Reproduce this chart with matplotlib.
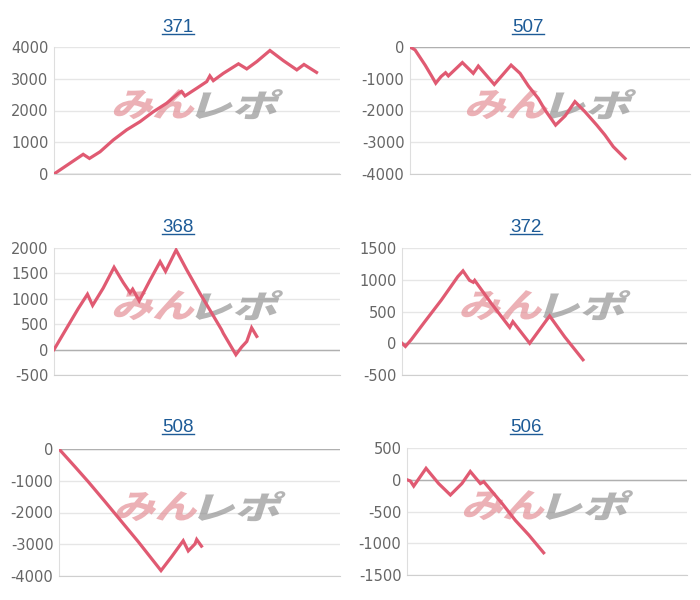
import matplotlib.pyplot as plt
from matplotlib.font_manager import FontProperties
from matplotlib.lines import Line2D
from matplotlib.patches import PathPatch
from matplotlib.textpath import TextPath
from matplotlib.transforms import Affine2D, ScaledTranslation

plt.rcParams["axes.unicode_minus"] = False

# x: position along the (unlabelled) x axis, 0-100; y: coin difference
x_371 = [0, 10.2, 12.4, 16.1, 20.7, 25.4, 30.1, 34.7, 39.4, 43.5, 44.6, 45.8, 49.9,
         53.4, 54.5, 55.7, 59.2, 64.5, 67.4, 70.9, 75.5, 80.2, 84.9, 87.4, 91.8]
y_371 = [0, 620, 490, 700, 1070, 1390, 1650, 1960, 2230, 2540, 2600, 2460, 2700,
         2910, 3090, 2940, 3170, 3470, 3310, 3540, 3890, 3570, 3280, 3450, 3200]

x_507 = [0, 1.8, 5.4, 7.7, 9.2, 11.1, 12.7, 13.7, 18.7, 22.6, 24.4, 30.1, 36.1,
         39.3, 42.3, 45.8, 48.2, 52.0, 55.4, 58.9, 62.5, 66.7, 69.6, 72.6, 76.8]
y_507 = [0, -90, -570, -910, -1140, -930, -810, -910, -490, -830, -600, -1180, -570,
         -830, -1230, -1620, -1980, -2460, -2170, -1720, -2040, -2460, -2770, -3140, -3510]

x_368 = [0, 4.4, 8.5, 11.7, 13.5, 17.2, 21.0, 24.2, 26.6, 27.5, 29.8, 33.6, 37.1,
         39.0, 42.7, 46.4, 51.0, 54.5, 58.6, 59.2, 63.6, 65.6, 67.4, 69.1, 70.9]
y_368 = [0, 420, 810, 1090, 870, 1210, 1620, 1320, 1120, 1190, 960, 1370, 1730,
         1540, 1960, 1570, 1110, 780, 390, 320, -100, 50, 160, 430, 260]

x_372 = [0, 1.2, 3.3, 8.0, 13.8, 19.6, 21.4, 23.7, 25.0, 25.5, 31.3, 37.8, 38.9,
         44.8, 51.8, 57.1, 63.5]
y_372 = [0, -50, 60, 340, 680, 1050, 1140, 990, 960, 990, 630, 250, 340,
         0, 430, 100, -260]

x_508 = [0, 5.7, 10.4, 16.4, 22.3, 28.2, 36.3, 40.1, 44.2, 46.0, 48.4, 49.0, 50.7]
y_508 = [0, -560, -1030, -1660, -2290, -2920, -3830, -3390, -2890, -3210, -2990,
         -2850, -3060]

x_506 = [0, 1.2, 2.4, 6.8, 11.3, 15.5, 19.6, 22.6, 26.2, 27.4, 33.9, 38.7, 43.5, 48.8]
y_506 = [0, -20, -100, 180, -60, -240, -60, 130, -60, -30, -370, -640, -870, -1150]

titles = ["371", "507", "368", "372", "508", "506"]
series = [(x_371, y_371), (x_507, y_507), (x_368, y_368),
          (x_372, y_372), (x_508, y_508), (x_506, y_506)]
y_ticks = [
    [0, 1000, 2000, 3000, 4000],
    [-4000, -3000, -2000, -1000, 0],
    [-500, 0, 500, 1000, 1500, 2000],
    [-500, 0, 500, 1000, 1500],
    [-4000, -3000, -2000, -1000, 0],
    [-1500, -1000, -500, 0, 500],
]

W, H = 700, 600
# axes boxes in pixels: left, right, top, bottom
boxes = [
    (54, 340, 47, 174), (410, 690, 47, 174),
    (54, 340, 248, 375), (402, 687, 248, 375),
    (59, 340, 449, 576), (407, 687, 448, 575),
]
title_pos = [(178, 31.5), (528, 31.5), (178, 232), (526, 232), (178, 432), (526, 432)]

LINE_COLOR = "#e05a72"
TITLE_COLOR = "#1d5b97"

fig = plt.figure(figsize=(W / 100, H / 100), dpi=100)
fig.patch.set_facecolor("white")

logo_font = FontProperties(family="Noto Sans CJK JP", weight="black")


def fit_path(path, x0, x1, h):
    ext = path.get_extents()
    t = (Affine2D().translate(-ext.x0, -ext.y0)
         .scale((x1 - x0) / ext.width, h / ext.height).translate(x0, 0))
    return t.transform_path(path)


def add_watermark(ax):
    pink = fit_path(TextPath((0, 0), "みん", size=1, prop=logo_font), 0, 0.80, 0.30)
    gray = fit_path(TextPath((0, 0), "レポ", size=1, prop=logo_font), 0.83, 1.63, 0.30)
    trans = (Affine2D().translate(-0.78, -0.15).skew_deg(18, 0)
             + fig.dpi_scale_trans + ScaledTranslation(0.49, 0.55, ax.transAxes))
    for p, c in ((pink, "#e49198"), (gray, "#949494")):
        ax.add_patch(PathPatch(p, transform=trans, facecolor=c, edgecolor="none",
                               alpha=0.7, zorder=1.5))


for (xs, ys), title, ticks, (l, r, t, b), (tx, ty) in zip(series, titles, y_ticks,
                                                         boxes, title_pos):
    ax = fig.add_axes([l / W, 1 - b / H, (r - l) / W, (b - t) / H])
    ax.set_xlim(0, 100)
    ax.set_ylim(ticks[0], ticks[-1])
    ax.set_yticks(ticks)
    ax.set_xticks([])
    ax.set_axisbelow(True)
    ax.grid(True, axis="y", color="#e6e6e6", linewidth=1)
    ax.axhline(0, color="#b0b0b0", linewidth=1, zorder=1)
    for side in ("top", "right"):
        ax.spines[side].set_visible(False)
    ax.spines["left"].set_color("#dedede")
    ax.spines["bottom"].set_color("#cfcfcf")
    ax.tick_params(axis="y", length=0, pad=4, labelsize=10.5, labelcolor="#666666")
    for lab in ax.get_yticklabels():
        lab.set_clip_on(False)

    add_watermark(ax)
    ax.plot(xs, ys, color=LINE_COLOR, linewidth=2.3, solid_joinstyle="miter", zorder=3)

    txt = fig.text(tx / W, 1 - ty / H, title, ha="center", va="baseline",
                   fontsize=13.5, family="Liberation Sans", color=TITLE_COLOR)
    fig.canvas.draw()
    bb = txt.get_window_extent()
    uy = 1 - (ty + 2) / H
    fig.add_artist(Line2D([bb.x0 / W, bb.x1 / W], [uy, uy], color=TITLE_COLOR,
                          linewidth=1.0, transform=fig.transFigure))

fig.savefig("out.png", dpi=100)
